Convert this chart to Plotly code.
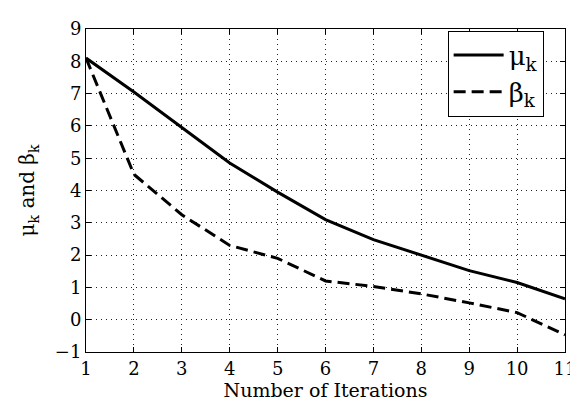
import plotly.graph_objects as go

iterations = [1, 2, 3, 4, 5, 6, 7, 8, 9, 10, 11]
mu_k = [8.1, 7.05, 5.95, 4.85, 3.95, 3.1, 2.48, 2.0, 1.52, 1.15, 0.65]
beta_k = [8.1, 4.5, 3.25, 2.3, 1.9, 1.2, 1.03, 0.8, 0.52, 0.22, -0.47]
x_ticks = list(range(1, 12))
y_ticks = list(range(-1, 10))

FONT = "DejaVu Serif"

fig = go.Figure()
fig.add_trace(go.Scatter(x=iterations, y=mu_k, mode="lines", name="μ<sub>k</sub>",
                         line=dict(color="black", width=3, dash="solid")))
fig.add_trace(go.Scatter(x=iterations, y=beta_k, mode="lines", name="β<sub>k</sub>",
                         line=dict(color="black", width=3, dash="12px,6px")))

axis_common = dict(showline=True, linecolor="black", linewidth=1, mirror="ticks",
                   ticks="inside", ticklen=5, tickcolor="black",
                   showgrid=True, gridcolor="#222", gridwidth=1, griddash="1px,4px",
                   zeroline=False, tickfont=dict(family=FONT, size=18, color="black"))

fig.update_xaxes(range=[1, 11], tickvals=x_ticks, ticklabeloverflow="allow",
                 title=dict(text="Number of Iterations", font=dict(family=FONT, size=19, color="black"), standoff=2),
                 **axis_common)
fig.update_yaxes(range=[-1, 9], tickvals=y_ticks,
                 title=dict(text="μ<sub>k</sub> and β<sub>k</sub>", font=dict(family=FONT, size=20, color="black"), standoff=14),
                 **axis_common)

fig.update_layout(width=578, height=403, plot_bgcolor="white", paper_bgcolor="white",
                  margin=dict(l=78, r=10, t=15, b=59),
                  font=dict(family=FONT, color="black"),
                  legend=dict(x=0.755, y=0.995, xanchor="left", yanchor="top",
                              bordercolor="black", borderwidth=1, bgcolor="white",
                              font=dict(family=FONT, size=26, color="black"),
                              itemwidth=50))

fig.write_html("out.html")
